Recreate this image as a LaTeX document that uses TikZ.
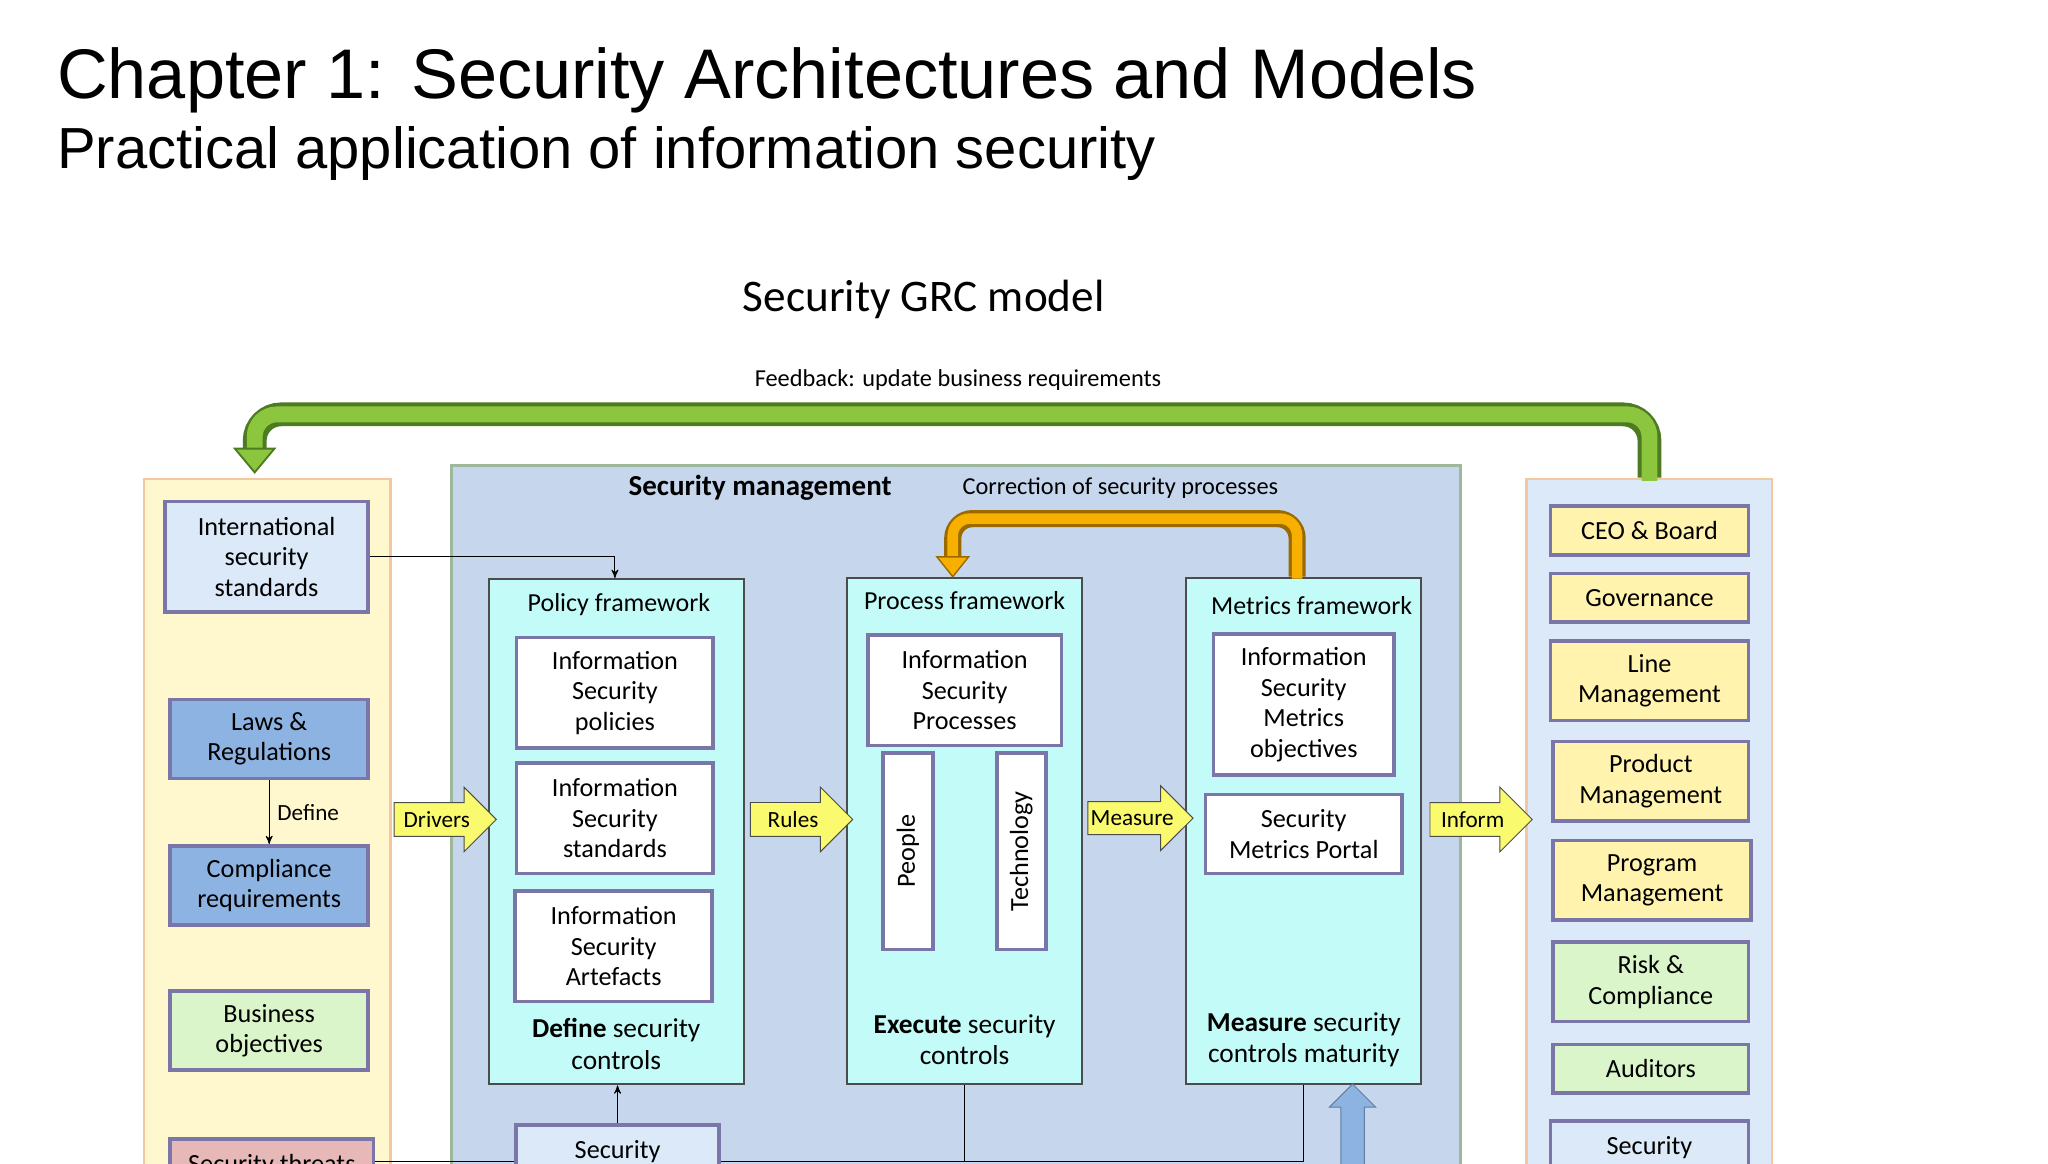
\documentclass[tikz,border=0pt]{standalone}
\usepackage{fontspec}
\setmainfont{Carlito}
\newfontfamily\titlefont{Liberation Sans}
\usetikzlibrary{positioning, shapes, arrows}
\definecolor{boxline}{HTML}{7B76A8}
\definecolor{paleyellow}{HTML}{FFF8CF}
\definecolor{panelline}{HTML}{F3C8A0}
\definecolor{mgmtfill}{HTML}{C6D6EC}
\definecolor{mgmtline}{HTML}{9DB89A}
\definecolor{cyanfill}{HTML}{C2FBF7}
\definecolor{lightblue}{HTML}{DCE9F8}
\definecolor{midblue}{HTML}{8DB3E2}
\definecolor{palegreen}{HTML}{D9F5C9}
\definecolor{pink}{HTML}{E6B9B8}
\definecolor{lemon}{HTML}{FFF3AE}
\definecolor{arrowyellow}{HTML}{FAFA6E}
\definecolor{feedgreen}{HTML}{8CC63F}
\definecolor{feeddark}{HTML}{4E7A22}
\definecolor{corrorange}{HTML}{F7B000}
\definecolor{corrdark}{HTML}{9A6A00}
\tikzset{
  box/.style={rectangle, draw=boxline, line width=1.6pt, align=center, font=\fontsize{11.3}{13.2}\selectfont, inner sep=1pt},
  frame/.style={rectangle, draw=black!70, line width=0.9pt, fill=cyanfill, anchor=north west},
  yarrow/.style={single arrow, draw=black!70, fill=arrowyellow, minimum height=1.55cm, minimum width=0.98cm, single arrow head extend=0.15cm, inner sep=1pt, font=\fontsize{10}{12}\selectfont},
  small/.style={font=\fontsize{10.5}{13}\selectfont, align=center},
  ftitle/.style={font=\fontsize{11.2}{13}\selectfont},
  fbottom/.style={align=center, font=\fontsize{11.8}{13.6}\selectfont}
}
\begin{document}
\begin{tikzpicture}[x=0.02cm, y=-0.02cm, >=stealth']
    \useasboundingbox (0,0) rectangle (1552,882);
    \clip (0,0) rectangle (1552,882);

    % titles
    \node[anchor=base west, inner sep=0pt, font=\titlefont\fontsize{30.3}{34}\selectfont] (title) at (43,75) {Chapter 1: Security Architectures and Models};
    \node[anchor=base west, inner sep=0pt, font=\titlefont\fontsize{25}{28}\selectfont] (subtitle) at (43,128) {Practical application of information security};
    \node[font=\fontsize{19.5}{22}\selectfont] (grc) at (700,227) {Security GRC model};
    \node[small] (feedlbl) at (726,288) {Feedback: update business requirements};

    % panels
    \node[rectangle, draw=panelline, line width=1pt, fill=paleyellow, anchor=north west, minimum width=3.74cm, minimum height=11cm] (lpanel) at (108,362) {};
    \node[rectangle, draw=panelline, line width=1pt, fill=lightblue, anchor=north west, minimum width=3.72cm, minimum height=11cm] (rpanel) at (1156,362) {};
    \node[rectangle, draw=mgmtline, line width=1.2pt, fill=mgmtfill, anchor=north west, minimum width=15.3cm, minimum height=11cm] (mgmt) at (341,352) {};
    \node[font=\fontsize{12.5}{15}\selectfont\bfseries] (mgmtlbl) at (576,370) {Security management};
    \node[small] (corrlbl) at (849,370) {Correction of security processes};

    % left column
    \node[box, fill=lightblue, minimum width=3.08cm, minimum height=1.68cm] (intl) at (202,422) {International\\security\\standards};
    \node[box, fill=midblue, minimum width=3cm, minimum height=1.2cm] (laws) at (204,560) {Laws \&\\Regulations};
    \node[box, fill=midblue, minimum width=3cm, minimum height=1.2cm] (compl) at (204,671) {Compliance\\requirements};
    \node[box, fill=palegreen, minimum width=3cm, minimum height=1.2cm] (busobj) at (204,781) {Business\\objectives};
    \node[box, fill=pink, minimum width=3.08cm, minimum height=1.2cm, anchor=north] (threats) at (206,862) {Security threats\\ };

    % frameworks
    \node[frame, minimum width=3.86cm, minimum height=7.66cm] (policy) at (370,438) {};
    \node[frame, minimum width=3.56cm, minimum height=7.68cm] (process) at (641,437) {};
    \node[frame, minimum width=3.56cm, minimum height=7.68cm] (metrics) at (898,437) {};

    \node[ftitle] (policylbl) at (469,458) {Policy framework};
    \node[ftitle] (processlbl) at (731,455) {Process framework};
    \node[ftitle] (metricslbl) at (994,459) {Metrics framework};

    \node[box, fill=white, minimum width=2.98cm, minimum height=1.68cm] (pol1) at (466,525) {Information\\Security\\policies};
    \node[box, fill=white, minimum width=2.98cm, minimum height=1.68cm] (pol2) at (466,620) {Information\\Security\\standards};
    \node[box, fill=white, minimum width=2.98cm, minimum height=1.68cm] (pol3) at (465,717) {Information\\Security\\Artefacts};
    \node[fbottom] (defctl) at (467,791) {\textbf{Define} security\\controls};

    \node[box, fill=white, minimum width=2.94cm, minimum height=1.68cm] (proc1) at (731,523) {Information\\Security\\Processes};
    \node[box, fill=white, minimum width=0.76cm, minimum height=2.98cm] (people) at (688,645) {};
    \node[rotate=90, font=\fontsize{11.3}{13}\selectfont] (peoplelbl) at (688,645) {People};
    \node[box, fill=white, minimum width=0.74cm, minimum height=2.98cm] (tech) at (774,645) {};
    \node[rotate=90, font=\fontsize{11.3}{13}\selectfont] (techlbl) at (774,645) {Technology};
    \node[fbottom] (exectl) at (731,788) {\textbf{Execute} security\\controls};

    \node[box, fill=white, minimum width=2.74cm, minimum height=2.14cm] (met1) at (988,534) {Information\\Security\\Metrics\\objectives};
    \node[box, fill=white, minimum width=2.98cm, minimum height=1.2cm] (met2) at (988,632) {Security\\Metrics Portal};
    \node[fbottom] (measctl) at (988,788) {\textbf{Measure} security\\controls maturity};

    \node[box, fill=lightblue, minimum width=3.08cm, minimum height=1.2cm, anchor=north] (secbox) at (468,851) {Security\\ };

    % yellow block arrows
    \node[yarrow] (drivers) at (331,621) {Drivers\hspace{3mm}};
    \node[yarrow] (rules) at (601,621) {Rules\hspace{3mm}};
    \node[yarrow] (measure) at (858,620) {Measure\hspace{2mm}};
    \node[yarrow] (inform) at (1116,621) {Inform\hspace{3mm}};

    % right column
    \node[box, fill=lemon, minimum width=3cm, minimum height=0.74cm] (ceo) at (1250,402) {CEO \& Board};
    \node[box, fill=lemon, minimum width=3cm, minimum height=0.74cm] (gov) at (1250,453) {Governance};
    \node[box, fill=lemon, minimum width=3cm, minimum height=1.2cm] (linem) at (1250,516) {Line\\Management};
    \node[box, fill=lemon, minimum width=2.96cm, minimum height=1.2cm] (prodm) at (1251,592) {Product\\Management};
    \node[box, fill=lemon, minimum width=3cm, minimum height=1.2cm] (progm) at (1252,667) {Program\\Management};
    \node[box, fill=palegreen, minimum width=2.96cm, minimum height=1.2cm] (risk) at (1251,744) {Risk \&\\Compliance};
    \node[box, fill=palegreen, minimum width=2.96cm, minimum height=0.74cm] (audit) at (1251,810) {Auditors};
    \node[box, fill=lightblue, minimum width=3cm, minimum height=1.2cm, anchor=north] (secright) at (1250,848) {Security\\ };

    % connectors
    \draw[->, thin] (intl.east) -| (policy.north -| pol1);
    \draw[->, thin] (laws) -- node[right, font=\fontsize{10}{12}\selectfont]{Define} (compl);
    \draw[->, thin] (secbox.north) -- (secbox.north |- policy.south);
    \coordinate (botline) at (0,880);
    \draw[thin] (threats.east |- botline) -- (secbox.west |- botline);
    \draw[thin] (secbox.east |- botline) -- (met1 |- botline);
    \draw[thin] (exectl |- process.south) -- (exectl |- botline);
    \draw[thin] (met1 |- metrics.south) -- (met1 |- botline);
    \node[single arrow, draw=midblue!70!black, fill=midblue, rotate=90, minimum height=1.4cm, minimum width=0.7cm, single arrow head extend=0.12cm, anchor=tip] (blueup) at (1025,821) {};

    % feedback arrow
    \coordinate (fbstart) at (1250,362);
    \coordinate (fbend) at (193,342);
    \draw[feeddark, line width=0.36cm, rounded corners=0.4cm] (fbstart) -- (1250,314) -- (193,314) -- (fbend);
    \draw[feedgreen, line width=0.24cm, rounded corners=0.34cm] ([yshift=-0.05cm]fbstart) -- (1250,314) -- (193,314) -- ([yshift=0.02cm]fbend);
    \filldraw[draw=feeddark, fill=feedgreen, line width=0.8pt] (178,340) -- (208,340) -- (193,358) -- cycle;

    % correction arrow
    \coordinate (crstart) at (983,437);
    \coordinate (crend) at (722,424);
    \draw[corrdark, line width=0.26cm, rounded corners=0.3cm] (crstart) -- (983,393) -- (722,393) -- (crend);
    \draw[corrorange, line width=0.16cm, rounded corners=0.26cm] ([yshift=-0.03cm]crstart) -- (983,393) -- (722,393) -- ([yshift=0.02cm]crend);
    \filldraw[draw=corrdark, fill=corrorange, line width=0.6pt] (710,422) -- (734,422) -- (722,437) -- cycle;
\end{tikzpicture}
\end{document}
